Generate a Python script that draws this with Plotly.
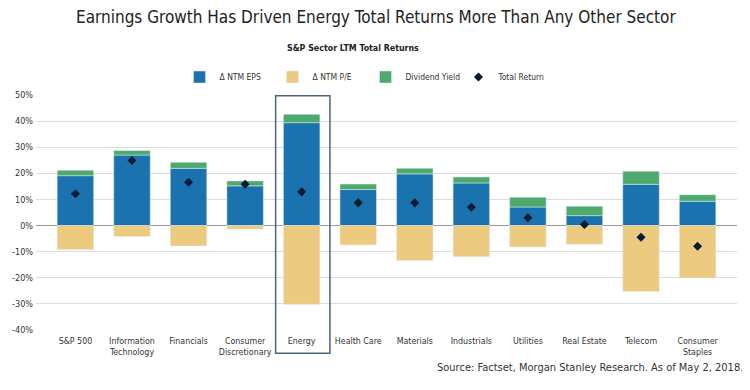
import plotly.graph_objects as go

categories = ["S&P 500", "Information<br>Technology", "Financials", "Consumer<br>Discretionary",
              "Energy", "Health Care", "Materials", "Industrials", "Utilities",
              "Real Estate", "Telecom", "Consumer<br>Staples"]
eps = [19.1, 27.0, 21.9, 15.2, 39.4, 13.8, 19.8, 16.3, 7.1, 3.8, 15.8, 9.3]
pe = [-9.2, -4.2, -7.8, -1.4, -30.2, -7.4, -13.4, -11.9, -8.2, -7.2, -25.3, -20.1]
div = [2.1, 1.7, 2.3, 1.9, 3.2, 2.1, 2.1, 2.3, 3.7, 3.6, 5.0, 2.5]
total = [12.2, 24.9, 16.6, 15.8, 12.9, 8.7, 8.7, 7.0, 3.0, 0.4, -4.5, -7.9]
y_ticks = [-40, -30, -20, -10, 0, 10, 20, 30, 40, 50]

FONT = "DejaVu Sans Condensed, Roboto, sans-serif"
BLUE = "#1a72ae"
TAN = "#ecca7f"
GREEN = "#4daa6c"

fig = go.Figure()
fig.add_bar(x=categories, y=eps, name="Δ NTM EPS", marker_color=BLUE)
fig.add_bar(x=categories, y=pe, name="Δ NTM P/E", marker_color=TAN)
fig.add_bar(x=categories, y=div, name="Dividend Yield", marker_color=GREEN)
fig.add_scatter(x=categories, y=total, name="Total Return", mode="markers",
                marker=dict(symbol="diamond", size=7, color="#0b1a33"))

# page body has an 8px margin, so the figure is drawn 8px in from the top-left
fig.update_layout(
    width=742, height=382,
    margin=dict(l=28, r=13, t=87, b=60, autoexpand=False),
    barmode="relative", bargap=0.355,
    plot_bgcolor="white", paper_bgcolor="white",
    font=dict(family=FONT, size=9, color="#333333"),
    showlegend=True,
    legend=dict(orientation="h", x=0.47, xanchor="center", y=(330 - 77) / 235, yanchor="middle",
                font=dict(size=8.5, color="#333333"), itemwidth=30, tracegroupgap=0,
                traceorder="normal", entrywidthmode="pixels", entrywidth=48),
    xaxis=dict(showgrid=False, ticks="", tickangle=0, tickfont=dict(size=8.8, color="#333333"),
               showline=False, fixedrange=True, automargin=False, ticklabelstandoff=4),
    yaxis=dict(range=[-40, 50], tickvals=y_ticks, ticktext=[f"{v}%" for v in y_ticks],
               showgrid=True, gridcolor="#dcdcdc", gridwidth=1,
               zeroline=True, zerolinecolor="#9a9a9a", zerolinewidth=1, automargin=False,
               tickfont=dict(size=9, color="#333333"), ticks="", ticklen=0, ticklabelstandoff=2),
)

fig.add_shape(type="rect", xref="x", yref="paper", x0=3.54, x1=4.5, y0=-0.099, y1=0.997,
              line=dict(color="#4a6480", width=1.5), fillcolor="rgba(0,0,0,0)", layer="above")

fig.add_annotation(text="Earnings Growth Has Driven Energy Total Returns More Than Any Other Sector",
                   xref="paper", yref="paper", x=(376 - 36) / 701, y=(330 - 17) / 235,
                   xanchor="center", yanchor="middle", showarrow=False,
                   font=dict(family=FONT, size=17, color="#222222"))
fig.add_annotation(text="<b>S&P Sector LTM Total Returns</b>",
                   xref="paper", yref="paper", x=(353 - 36) / 701, y=(330 - 48) / 235,
                   xanchor="center", yanchor="middle", showarrow=False,
                   font=dict(family=FONT, size=8.8, color="#222222"))
fig.add_annotation(text="Source: Factset, Morgan Stanley Research. As of May 2, 2018.",
                   xref="paper", yref="paper", x=(745 - 36) / 701, y=(330 - 367) / 235,
                   xanchor="right", yanchor="middle", showarrow=False,
                   font=dict(family=FONT, size=11, color="#333333"))

fig.write_html("out.html")
